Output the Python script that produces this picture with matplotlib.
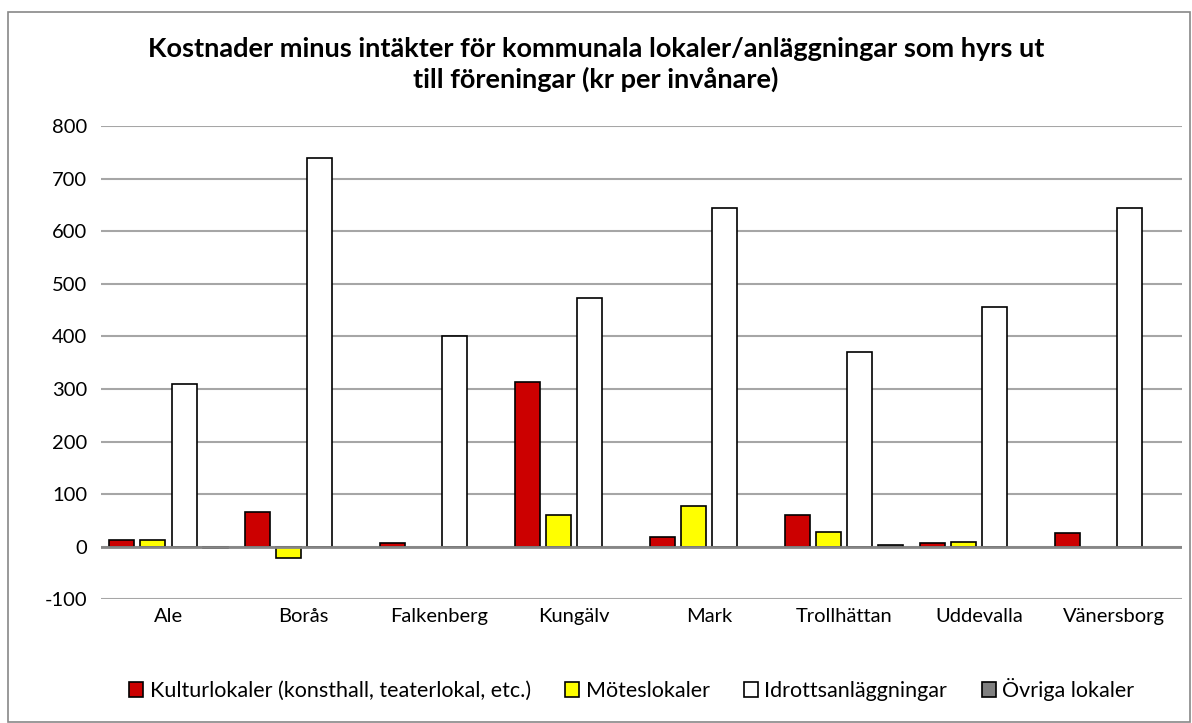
import matplotlib
matplotlib.use("Agg")
from matplotlib import pyplot as plt
from matplotlib.patches import Rectangle
import numpy as np

kommuner = ["Ale", "Borås", "Falkenberg", "Kungälv", "Mark", "Trollhättan", "Uddevalla", "Vänersborg"]

kultur = [13, 67, 7, 313, 18, 60, 7, 26]
mote = [13, -22, 0, 60, 78, 28, 10, 0]
idrott = [310, 740, 400, 473, 645, 370, 455, 645]
ovriga = [-3, 0, 0, 0, 0, 4, 0, 0]

serier = [
    ("Kulturlokaler (konsthall, teaterlokal, etc.)", kultur, "#cc0000"),
    ("Möteslokaler", mote, "#ffff00"),
    ("Idrottsanläggningar", idrott, "#ffffff"),
    ("Övriga lokaler", ovriga, "#808080"),
]

plt.rcParams['font.family'] = ['Lato', 'DejaVu Sans']
plt.rcParams['axes.unicode_minus'] = False

fig = plt.figure(figsize=(11.92, 7.23), dpi=100)
ax = fig.add_axes([0.0847, 0.171, 0.9069, 0.6547])

x = np.arange(len(kommuner))
steg = 0.23
bredd = 0.185
for i, (namn, varden, farg) in enumerate(serier):
    pos = x + (i - 1.5) * steg
    kanter = [1.2 if v != 0 else 0 for v in varden]
    ax.bar(pos, varden, width=bredd, color=farg, edgecolor="black", linewidth=kanter, label=namn, zorder=3)

ax.set_xlim(-0.5, len(kommuner) - 0.5)
ax.set_ylim(-100, 800)
ax.set_yticks(range(-100, 801, 100))
ax.set_xticks(x)
ax.set_xticklabels(kommuner, fontsize=14.5)
ax.tick_params(axis="y", labelsize=14.5, length=0, pad=10)
ax.tick_params(axis="x", length=0, pad=6)
ax.grid(axis="y", color="#a6a6a6", linewidth=1.5, zorder=0)
ax.axhline(0, color="#868686", linewidth=2, zorder=4)
for s in ax.spines.values():
    s.set_visible(False)

fig.text(0.5, 0.911, "Kostnader minus intäkter för kommunala lokaler/anläggningar som hyrs ut\ntill föreningar (kr per invånare)",
         ha="center", va="center", fontsize=19.5, fontweight="bold", linespacing=1.3)

fig.legend(loc="center", bbox_to_anchor=(0.53, 0.046), ncol=4, fontsize=15.5, frameon=False,
           handlelength=0.65, handleheight=0.65, handletextpad=0.3, columnspacing=1.6)

fig.patches.append(Rectangle((8 / 1192, 0.001), 1182 / 1192, 1 - 12 / 723 - 0.001, transform=fig.transFigure,
                             fill=False, edgecolor="#888888", linewidth=1.2))

fig.savefig("out.png", dpi=100)
